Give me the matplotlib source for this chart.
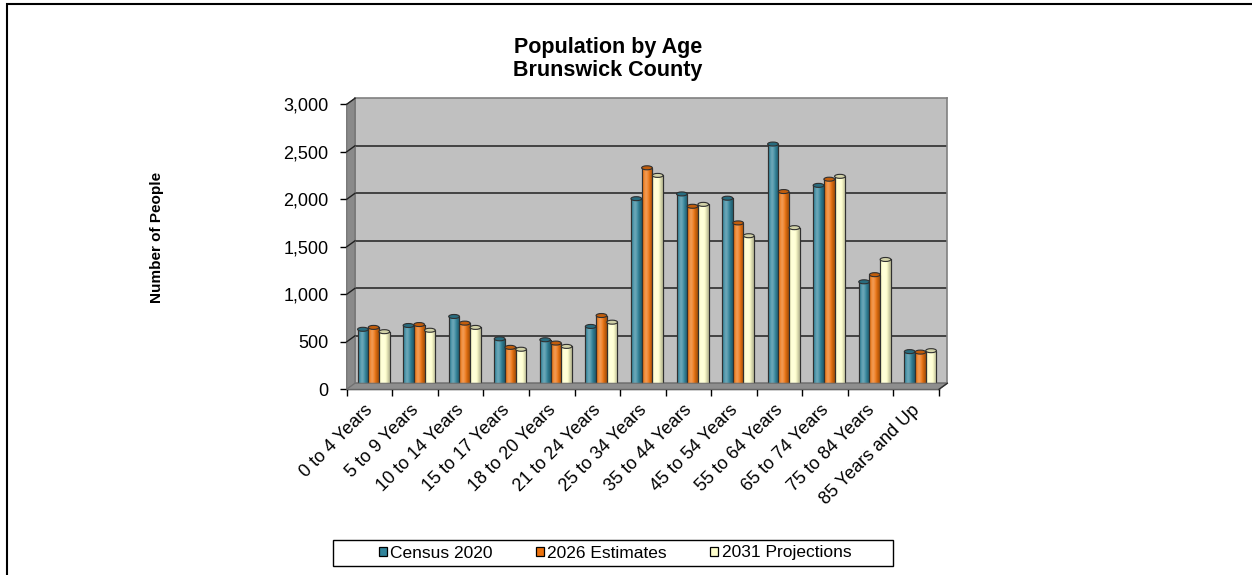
import numpy as np
import matplotlib.pyplot as plt
import matplotlib.colors as mcolors
import matplotlib.transforms as mtransforms
from matplotlib.patches import Polygon, Rectangle, Ellipse, Patch
from matplotlib.lines import Line2D
from matplotlib.ticker import FuncFormatter

plt.rcParams['font.family'] = ['Liberation Sans', 'DejaVu Sans']

# Population by age group
age_groups = ['0 to 4 Years', '5 to 9 Years', '10 to 14 Years', '15 to 17 Years',
              '18 to 20 Years', '21 to 24 Years', '25 to 34 Years', '35 to 44 Years',
              '45 to 54 Years', '55 to 64 Years', '65 to 74 Years', '75 to 84 Years',
              '85 Years and Up']
census_2020 = [600, 640, 735, 500, 490, 630, 1975, 2025, 1980, 2550, 2115, 1100, 365]
estimates_2026 = [620, 650, 665, 410, 455, 745, 2300, 1895, 1720, 2050, 2180, 1175, 360]
projections_2031 = [575, 590, 620, 390, 420, 675, 2220, 1915, 1585, 1670, 2210, 1335, 375]

series_names = ['Census 2020', '2026 Estimates', '2031 Projections']
series_colors = ['#31849B', '#EC720E', '#FFFFCC']

W, H = 1252, 575


def fx(px):
    return px / W


def fy(py):
    return 1 - py / H


def rect(left, top, right, bottom):
    return [fx(left), fy(bottom), fx(right) - fx(left), fy(top) - fy(bottom)]


fig = plt.figure(figsize=(W / 100, H / 100), dpi=100)

# outer frame (runs off the right and bottom edges)
fig.add_artist(Rectangle((fx(7), fy(H + 10)), 1.2, fy(4) - fy(H + 10),
                         transform=fig.transFigure, fill=False, lw=1.5, ec='black'))

# 3D box geometry: front plane and back wall, offset by depth
dx, dy = 8.3, 6.0
fl, fr, ft, fb = 346.7, 939.0, 104.3, 389.3
bl, br, bt, bb = fl + dx, fr + dx, ft - dy, fb - dy

ymax = 3000
yticks = np.arange(0, ymax + 1, 500)

# back wall with gridlines
wall = fig.add_axes(rect(bl, bt, br, bb))
wall.set_facecolor('#C0C0C0')
wall.set_xlim(0, 1)
wall.set_ylim(0, ymax)
for v in yticks[1:-1]:
    wall.axhline(v, color='#202020', lw=1.1)
wall.set_xticks([])
wall.set_yticks([])
for s in wall.spines.values():
    s.set_color('#808080')
    s.set_linewidth(1.2)

# side wall and floor
fig.add_artist(Polygon([(fx(fl), fy(fb)), (fx(fl), fy(ft)), (fx(bl), fy(bt)), (fx(bl), fy(bb))],
                       closed=True, transform=fig.transFigure, fc='#8A8A8A', ec='#707070', lw=0.8))
fig.add_artist(Polygon([(fx(fl), fy(fb)), (fx(bl), fy(bb)), (fx(br), fy(bb)), (fx(fr), fy(fb))],
                       closed=True, transform=fig.transFigure, fc='#8E8E8E', ec='#707070', lw=0.8))
# gridlines carried across the side wall
for v in yticks[1:]:
    yf = fb - (fb - ft) * v / ymax
    yb = bb - (bb - bt) * v / ymax
    fig.add_artist(Line2D([fx(fl), fx(bl)], [fy(yf), fy(yb)], transform=fig.transFigure,
                          color='#202020', lw=1.0))
fig.add_artist(Line2D([fx(fr), fx(br)], [fy(fb), fy(bb)], transform=fig.transFigure,
                      color='#303030', lw=1.0))

# bars sit half way into the box
ax = fig.add_axes(rect(fl + dx / 2, ft - dy / 2, fr + dx / 2, fb - dy / 2))
ax.patch.set_alpha(0)
ax.axis('off')
x = np.arange(len(age_groups))
bw = 0.235
cap_h = ymax / (fb - ft) * 4.0


def shade(color, n=64):
    base = np.array(mcolors.to_rgb(color))
    t = np.linspace(0, 1, n)
    # soft highlight left of centre, darker towards both edges
    light = np.exp(-((t - 0.38) / 0.22) ** 2) * 0.28
    dark = np.clip(np.abs(t - 0.4) - 0.22, 0, None) * 0.8
    rgb = base[None, :] * (1 - dark[:, None]) + (1 - base[None, :]) * light[:, None]
    return np.clip(rgb, 0, 1)[None, :, :]


for i, (vals, col) in enumerate(zip([census_2020, estimates_2026, projections_2031], series_colors)):
    bars = ax.bar(x + (i - 1) * bw, vals, bw, color=col, edgecolor='#303030', lw=0.8, zorder=2)
    grad = shade(col)
    for b in bars:
        x0, h, w = b.get_x(), b.get_height(), b.get_width()
        im = ax.imshow(grad, extent=(x0, x0 + w, 0, h), aspect='auto', zorder=2.5,
                       interpolation='bilinear')
        im.set_clip_path(b)
        ax.add_patch(Rectangle((x0, 0), w, h, fill=False, ec='#303030', lw=0.8, zorder=3))
        cap = np.array(mcolors.to_rgb(col)) * 0.82
        ax.add_patch(Ellipse((x0 + w / 2, h), w, cap_h, fc=cap, ec='#303030', lw=0.8, zorder=4))
ax.set_xlim(-0.5, len(age_groups) - 0.5)
ax.set_ylim(0, ymax)

# front axes carry the ticks and labels
front = fig.add_axes(rect(fl, ft, fr, fb))
front.patch.set_alpha(0)
front.set_xlim(-0.5, len(age_groups) - 0.5)
front.set_ylim(0, ymax)
front.set_yticks(yticks)
front.yaxis.set_major_formatter(FuncFormatter(lambda v, p: f'{int(v):,}'))
front.set_xticks(x)
front.set_xticklabels(age_groups, rotation=45, ha='right', va='top', rotation_mode='anchor')
front.set_xticks(np.arange(-0.5, len(age_groups)), minor=True)
front.tick_params(axis='x', which='major', length=0, pad=9, labelsize=13)
front.tick_params(axis='x', which='minor', length=5, width=1, direction='out')
front.tick_params(axis='y', length=5, width=1, direction='out', pad=8, labelsize=13)
shift = mtransforms.ScaledTranslation(-5 / 100, 0, fig.dpi_scale_trans)
for lbl in front.get_xticklabels():
    lbl.set_transform(lbl.get_transform() + shift)
for s in ['top', 'right']:
    front.spines[s].set_visible(False)
for s in ['left', 'bottom']:
    front.spines[s].set_color('black')
    front.spines[s].set_linewidth(1.0)

fig.text(fx(608), fy(59), 'Population by Age\nBrunswick County', ha='center', va='center',
         fontsize=15.5, fontweight='bold', linespacing=1.1)
fig.text(fx(157), fy(237), 'Number of People', rotation=90, ha='center', va='center',
         fontsize=11, fontweight='bold')

# legend box
fig.add_artist(Rectangle((fx(333), fy(566)), fx(893) - fx(333), fy(540) - fy(566),
                         transform=fig.transFigure, fill=False, ec='black', lw=1.0))
handles = [Patch(fc=c, ec='black', lw=0.9) for c in series_colors]
fig.legend(handles, series_names, loc='center', bbox_to_anchor=(fx(615), fy(553)), ncol=3,
           frameon=False, fontsize=12.5, handlelength=0.45, handleheight=0.45,
           handletextpad=0.2, columnspacing=2.5)

fig.savefig('out.png', dpi=100)
